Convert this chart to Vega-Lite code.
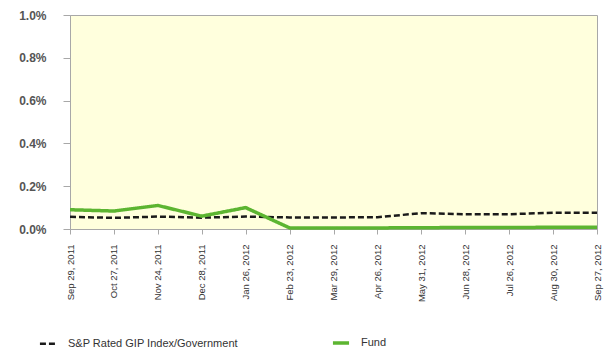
{
  "$schema": "https://vega.github.io/schema/vega-lite/v6.json",
  "width": 527,
  "height": 214,
  "autosize": {"type": "none"},
  "padding": {"left": 70, "top": 15, "right": 13, "bottom": 123},
  "background": "#ffffff",
  "config": {
    "font": "Liberation Sans",
    "view": {"fill": "#ffffdd", "stroke": "#a8a8a8", "strokeWidth": 1}
  },
  "data": {
    "values": [
      {"date": "Sep 29, 2011", "series": "S&P Rated GIP Index/Government", "yield": 0.00057},
      {"date": "Oct 27, 2011", "series": "S&P Rated GIP Index/Government", "yield": 0.00052},
      {"date": "Nov 24, 2011", "series": "S&P Rated GIP Index/Government", "yield": 0.00058},
      {"date": "Dec 28, 2011", "series": "S&P Rated GIP Index/Government", "yield": 0.00053},
      {"date": "Jan 26, 2012", "series": "S&P Rated GIP Index/Government", "yield": 0.00058},
      {"date": "Feb 23, 2012", "series": "S&P Rated GIP Index/Government", "yield": 0.00054},
      {"date": "Mar 29, 2012", "series": "S&P Rated GIP Index/Government", "yield": 0.00054},
      {"date": "Apr 26, 2012", "series": "S&P Rated GIP Index/Government", "yield": 0.00055},
      {"date": "May 31, 2012", "series": "S&P Rated GIP Index/Government", "yield": 0.00074},
      {"date": "Jun 28, 2012", "series": "S&P Rated GIP Index/Government", "yield": 0.00069},
      {"date": "Jul 26, 2012", "series": "S&P Rated GIP Index/Government", "yield": 0.00069},
      {"date": "Aug 30, 2012", "series": "S&P Rated GIP Index/Government", "yield": 0.00076},
      {"date": "Sep 27, 2012", "series": "S&P Rated GIP Index/Government", "yield": 0.00076},
      {"date": "Sep 29, 2011", "series": "Fund", "yield": 0.0009},
      {"date": "Oct 27, 2011", "series": "Fund", "yield": 0.00084},
      {"date": "Nov 24, 2011", "series": "Fund", "yield": 0.0011},
      {"date": "Dec 28, 2011", "series": "Fund", "yield": 0.0006},
      {"date": "Jan 26, 2012", "series": "Fund", "yield": 0.001},
      {"date": "Feb 23, 2012", "series": "Fund", "yield": 0.00005},
      {"date": "Mar 29, 2012", "series": "Fund", "yield": 0.00005},
      {"date": "Apr 26, 2012", "series": "Fund", "yield": 0.00005},
      {"date": "May 31, 2012", "series": "Fund", "yield": 0.00006},
      {"date": "Jun 28, 2012", "series": "Fund", "yield": 0.00007},
      {"date": "Jul 26, 2012", "series": "Fund", "yield": 0.00007},
      {"date": "Aug 30, 2012", "series": "Fund", "yield": 0.00008},
      {"date": "Sep 27, 2012", "series": "Fund", "yield": 0.00008}
    ]
  },
  "mark": {"type": "line", "strokeJoin": "round"},
  "encoding": {
    "x": {
      "field": "date",
      "type": "ordinal",
      "sort": null,
      "scale": {"type": "point", "padding": 0},
      "axis": {
        "title": null,
        "labelAngle": -90,
        "labelFontSize": 9.5,
        "labelColor": "#333333",
        "labelPadding": 10,
        "tickSize": 5,
        "tickColor": "#a8a8a8",
        "domainColor": "#a8a8a8",
        "grid": false
      }
    },
    "y": {
      "field": "yield",
      "type": "quantitative",
      "scale": {"domain": [0, 0.01], "nice": false},
      "axis": {
        "title": null,
        "format": ".1%",
        "values": [0, 0.002, 0.004, 0.006, 0.008, 0.01],
        "labelFontSize": 12,
        "labelFontWeight": "bold",
        "labelColor": "#555555",
        "labelPadding": 17,
        "tickSize": 7,
        "tickColor": "#a8a8a8",
        "domainColor": "#a8a8a8",
        "grid": false
      }
    },
    "color": {
      "field": "series",
      "type": "nominal",
      "sort": ["S&P Rated GIP Index/Government", "Fund"],
      "scale": {"domain": ["S&P Rated GIP Index/Government", "Fund"], "range": ["#1a1a1a", "#5cb531"]},
      "legend": {
        "title": null,
        "orient": "none",
        "legendX": -32,
        "legendY": 318,
        "direction": "horizontal",
        "columns": 2,
        "columnPadding": 87,
        "labelLimit": 0,
        "symbolType": "stroke",
        "symbolSize": 260,
        "symbolStrokeWidth": 3,
        "labelFontSize": 11,
        "labelColor": "#333333",
        "labelOffset": 10
      }
    },
    "strokeDash": {
      "field": "series",
      "type": "nominal",
      "sort": ["S&P Rated GIP Index/Government", "Fund"],
      "scale": {"domain": ["S&P Rated GIP Index/Government", "Fund"], "range": [[6, 3], [1, 0]]},
      "legend": null
    },
    "strokeWidth": {
      "field": "series",
      "type": "nominal",
      "scale": {"domain": ["S&P Rated GIP Index/Government", "Fund"], "range": [2.5, 3.5]},
      "legend": null
    }
  }
}
